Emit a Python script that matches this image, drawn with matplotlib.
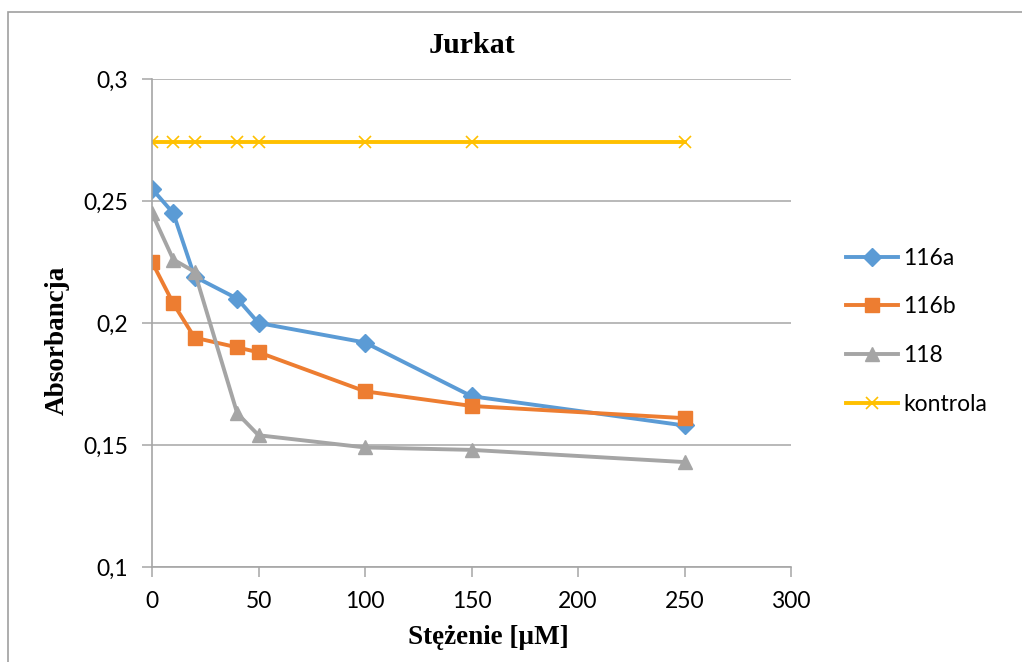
import matplotlib
matplotlib.use("Agg")
import matplotlib.pyplot as plt
from matplotlib.ticker import FuncFormatter, FixedLocator
from matplotlib.patches import Rectangle

stezenie = [0, 10, 20, 40, 50, 100, 150, 250]
s116a = [0.255, 0.245, 0.219, 0.210, 0.200, 0.192, 0.170, 0.158]
s116b = [0.225, 0.208, 0.194, 0.190, 0.188, 0.172, 0.166, 0.161]
s118 = [0.245, 0.226, 0.221, 0.163, 0.154, 0.149, 0.148, 0.143]
kontrola = [0.274] * 8
labels = ["116a", "116b", "118", "kontrola"]
x_ticks = [0, 50, 100, 150, 200, 250, 300]
y_ticks = [0.1, 0.15, 0.2, 0.25, 0.3]

W, H = 1022, 662
fig = plt.figure(figsize=(W / 100, H / 100), dpi=100)
fig.patches.append(Rectangle((8 / W, -0.1), 1.2, 1 - 12 / H + 0.1, transform=fig.transFigure,
                             fill=False, edgecolor="#a0a0a0", linewidth=1.2))

ax = fig.add_axes([152 / W, 1 - 567 / H, (791 - 152) / W, (567 - 79) / H])
tick_font = "Lato"
grid_c = "#a6a6a6"

ax.plot(stezenie, s116a, color="#5B9BD5", lw=2.8, marker="D", ms=9, label=labels[0])
ax.plot(stezenie, s116b, color="#ED7D31", lw=2.8, marker="s", ms=10.5, label=labels[1])
ax.plot(stezenie, s118, color="#A5A5A5", lw=2.8, marker="^", ms=10.5, label=labels[2])
ax.plot(stezenie, kontrola, color="#FFC000", lw=2.8, marker="x", ms=8.5, mew=1.2, label=labels[3])

ax.set_xlim(0, 300)
ax.set_ylim(0.1, 0.3)
ax.xaxis.set_major_locator(FixedLocator(x_ticks))
ax.yaxis.set_major_locator(FixedLocator(y_ticks))
fmt = FuncFormatter(lambda v, p: ("%g" % round(v, 3)).replace(".", ","))
ax.xaxis.set_major_formatter(fmt)
ax.yaxis.set_major_formatter(fmt)
ax.grid(axis="y", color=grid_c, lw=1.1)
ax.set_axisbelow(True)
for s in ["top", "right"]:
    ax.spines[s].set_visible(False)
for s in ["left", "bottom"]:
    ax.spines[s].set_color(grid_c)
    ax.spines[s].set_linewidth(1.2)
ax.tick_params(axis="both", colors=grid_c, length=7, width=1.1, labelcolor="black",
               labelsize=16.5)
ax.tick_params(axis="y", pad=10)
ax.tick_params(axis="x", pad=10)
for lab in ax.get_xticklabels() + ax.get_yticklabels():
    lab.set_fontfamily(tick_font)

ax.set_title("Jurkat", fontfamily="Liberation Serif", fontweight="bold", fontsize=21.5, pad=19)
ax.set_xlabel("Stężenie [µM]", fontfamily="Liberation Serif", fontweight="bold", fontsize=19.5)
ax.set_ylabel("Absorbancja", fontfamily="Liberation Serif", fontweight="bold", fontsize=19.5)
ax.xaxis.set_label_coords((488 - 152) / 639, -(625 - 567) / 488)
ax.yaxis.set_label_coords(-(152 - 70) / 639, (567 - 340) / 488)

leg = fig.legend(loc="upper left", bbox_to_anchor=(825 / W, 1 - 227 / H), frameon=False,
                 prop={"family": tick_font, "size": 16.5}, labelspacing=1.21,
                 handlelength=2.3, handletextpad=0.2)

fig.savefig("out.png", dpi=100)
